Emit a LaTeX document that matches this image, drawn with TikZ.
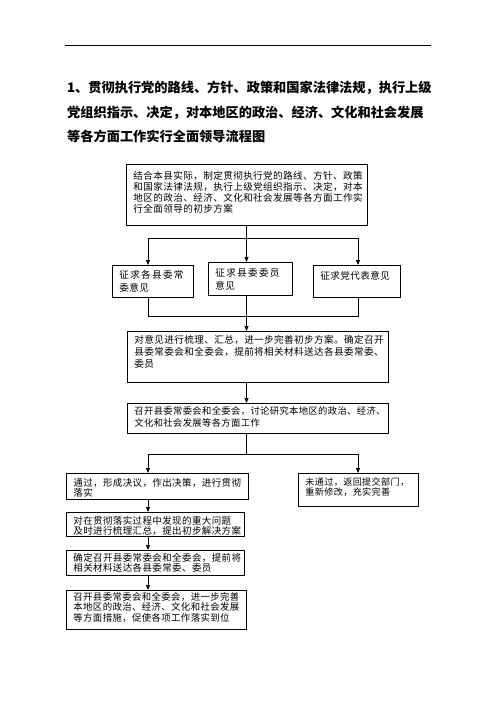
\documentclass[tikz,border=0pt]{standalone}
\usepackage{fontspec}
\newfontfamily\cjk{Noto Sans CJK SC}[LetterSpace=4]
\newfontfamily\cjkt{Noto Sans CJK SC}
\usetikzlibrary{arrows.meta}
\newcommand\ks{\kern1.3pt}
% width, height, top pad, font size, baselineskip, text
\newcommand\bt[6]{\parbox[c][#2pt][t]{#1pt}{\vspace*{#3pt}\raggedright\leftskip=7pt\fontsize{#4}{#5}\selectfont #6\par}}
\begin{document}
\begin{tikzpicture}[x=1pt,y=-1pt,
  box/.style={draw,line width=0.9pt,inner sep=0pt,anchor=north west,font=\cjk},
  ln/.style={line width=0.9pt},
  arr/.style={ln,-{Triangle[length=5pt,width=4pt]}}]
\useasboundingbox (0,0) rectangle (496,702);
\draw[line width=0.8pt] (65,45) -- (431,45);
\node[anchor=west,inner sep=0pt,font=\cjkt\bfseries\fontsize{13.2}{24.5}\selectfont,align=left] (title) at (67,112)
 {1、贯彻执行党的路线、方针、政策和国家法律法规，执行上级\\党组织指示、决定，对本地区的政治、经济、文化和社会发展\\等各方面工作实行全面领导流程图};

\node[box] (b1) at (126,164) {\bt{241}{61}{6.5}{9.6}{11}{结合本县实际，制定贯彻执行党的路线、方针、政策\\和国家法律法规，执行上级党组织指示、决定，对本\\地区的政治、经济、文化和社会发展等各方面工作实\\行全面领导的初步方案}};
\node[box] (b2) at (112,265) {\bt{81}{32}{5}{9.6}{12.5}{征\ks 求\ks 各\ks 县\ks 委\ks 常\\委意见}};
\node[box] (b3) at (208,262) {\bt{84}{33}{6}{9.6}{13}{征\ks 求\ks 县\ks 委\ks 委\ks 员\\意见}};
\node[box] (b4) at (313,265) {\bt{87}{32}{5.5}{9.6}{12}{征求党代表意见}};
\node[box] (b5) at (127,331) {\bt{261}{51}{3.5}{9.6}{12}{对意见进行梳理、汇总，进一步完善初步方案。确定召开\\县委常委会和全委会，提前将相关材料送达各县委常委、\\委员}};
\node[box] (b6) at (127,403) {\bt{261}{30}{3}{9.3}{12}{召开县委常委会和全委会，讨论研究本地区的政治、经济、\\文化和社会发展等各方面工作}};
\node[box] (b7) at (66,473) {\bt{182}{26}{5}{9.5}{9.8}{通过，形成决议，作出决策，进行贯彻\\落实}};
\node[box] (b8) at (298,473) {\bt{120}{33}{4.5}{9.1}{10}{未通过，返回提交部门，\\重新修改，充实完善}};
\node[box] (b9) at (66,512) {\bt{178}{24}{3.5}{9.5}{10}{对在贯彻落实过程中发现的重大问题\\及时进行梳理汇总，提出初步解决方案}};
\node[box] (b10) at (66,550) {\bt{178}{25}{2.5}{9.5}{10}{确定召开县委常委会和全委会，提前将\\相关材料送达各县委常委、委员}};
\node[box] (b11) at (66,590) {\bt{180}{39}{2}{9.4}{10.3}{召开县委常委会和全委会，进一步完善\\本地区的政治、经济、文化和社会发展\\等方面措施，促使各项工作落实到位}};

\coordinate (cL) at (148,0);
\coordinate (cM) at (246.5,0);
\coordinate (cR) at (358,0);
\coordinate (bus1) at (0,238);
\coordinate (bus2) at (0,316);
\coordinate (bus3) at (0,454);

\draw[arr] (b1.south -| cM) -- (b3.north -| cM);
\draw[ln] (cL |- bus1) -- (cR |- bus1);
\draw[arr] (cL |- bus1) -- (b2.north -| cL);
\draw[arr] (cR |- bus1) -- (b4.north -| cR);
\draw[ln] (b2.south -| cL) -- (cL |- bus2) -- (cR |- bus2) -- (b4.south -| cR);
\draw[arr] (b3.south -| cM) -- (b5.north -| cM);
\draw[arr] (b5.south -| cM) -- (b6.north -| cM);
\draw[ln] (b6.south -| cM) -- (cM |- bus3);
\draw[ln] (cL |- bus3) -- (cR |- bus3);
\draw[arr] (cL |- bus3) -- (b7.north -| cL);
\draw[arr] (cR |- bus3) -- (b8.north -| cR);
\draw[arr] (b7.south -| cL) -- (b9.north -| cL);
\draw[arr] (b9.south -| cL) -- (b10.north -| cL);
\draw[arr] (b10.south -| cL) -- (b11.north -| cL);
\end{tikzpicture}
\end{document}
